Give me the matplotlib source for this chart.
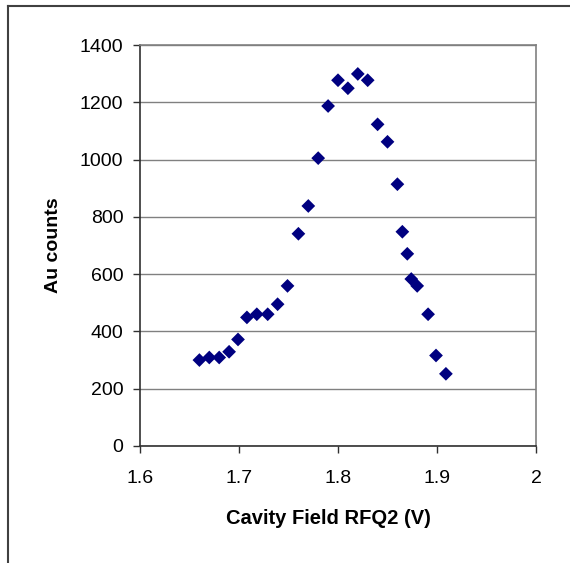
import matplotlib
matplotlib.use("Agg")
import matplotlib.pyplot as plt
from matplotlib.lines import Line2D

plt.rcParams['font.family'] = ['Liberation Sans', 'DejaVu Sans']

field = [1.660, 1.670, 1.680, 1.690, 1.699, 1.708, 1.718, 1.729, 1.739, 1.749,
         1.760, 1.770, 1.780, 1.790, 1.800, 1.810, 1.820, 1.830, 1.840, 1.850,
         1.860, 1.865, 1.870, 1.874, 1.880, 1.891, 1.899, 1.909]
counts = [300, 309, 309, 329, 372, 449, 460, 460, 495, 559,
          741, 838, 1005, 1187, 1277, 1249, 1299, 1277, 1123, 1062,
          914, 748, 671, 583, 559, 460, 316, 252]
xticks = [1.6, 1.7, 1.8, 1.9, 2.0]
xticklabels = ['1.6', '1.7', '1.8', '1.9', '2']
yticks = [0, 200, 400, 600, 800, 1000, 1200, 1400]

W, H = 570, 563
fig = plt.figure(figsize=(W / 100, H / 100), dpi=100)
L, R, T, B = 140, 536, 45, 446
ax = fig.add_axes([L / W, 1 - B / H, (R - L) / W, (B - T) / H])

ax.scatter(field, counts, marker='D', s=7.0 ** 2, color='#000080', edgecolors='none', zorder=3)

ax.set_xlim(1.6, 2.0)
ax.set_ylim(0, 1400)
ax.set_xticks(xticks)
ax.set_xticklabels(xticklabels)
ax.set_yticks(yticks)
ax.yaxis.grid(True, color='#808080', linewidth=1.0)
ax.set_axisbelow(True)

for s in ['top', 'right']:
    ax.spines[s].set_color('#808080')
    ax.spines[s].set_linewidth(1.2)
for s in ['left', 'bottom']:
    ax.spines[s].set_color('#303030')
    ax.spines[s].set_linewidth(1.2)

ax.tick_params(axis='both', direction='out', length=5, width=1.0, color='#303030',
               labelsize=14, labelcolor='black')
ax.tick_params(axis='y', pad=7)
ax.tick_params(axis='x', pad=12)

fig.text(328 / W, 1 - 519 / H, 'Cavity Field RFQ2 (V)', ha='center', va='center',
         fontsize=14.5, fontweight='bold')
fig.text(54 / W, 1 - 245 / H, 'Au counts', ha='center', va='center', rotation=90,
         fontsize=14, fontweight='bold')

# figure border (left and top)
fig.add_artist(Line2D([8 / W, 8 / W], [0, 1 - 6 / H], transform=fig.transFigure,
                      color='#404040', linewidth=1.5))
fig.add_artist(Line2D([8 / W, 1], [1 - 6 / H, 1 - 6 / H], transform=fig.transFigure,
                      color='#404040', linewidth=1.5))

fig.savefig('out.png', dpi=100, facecolor='white')
